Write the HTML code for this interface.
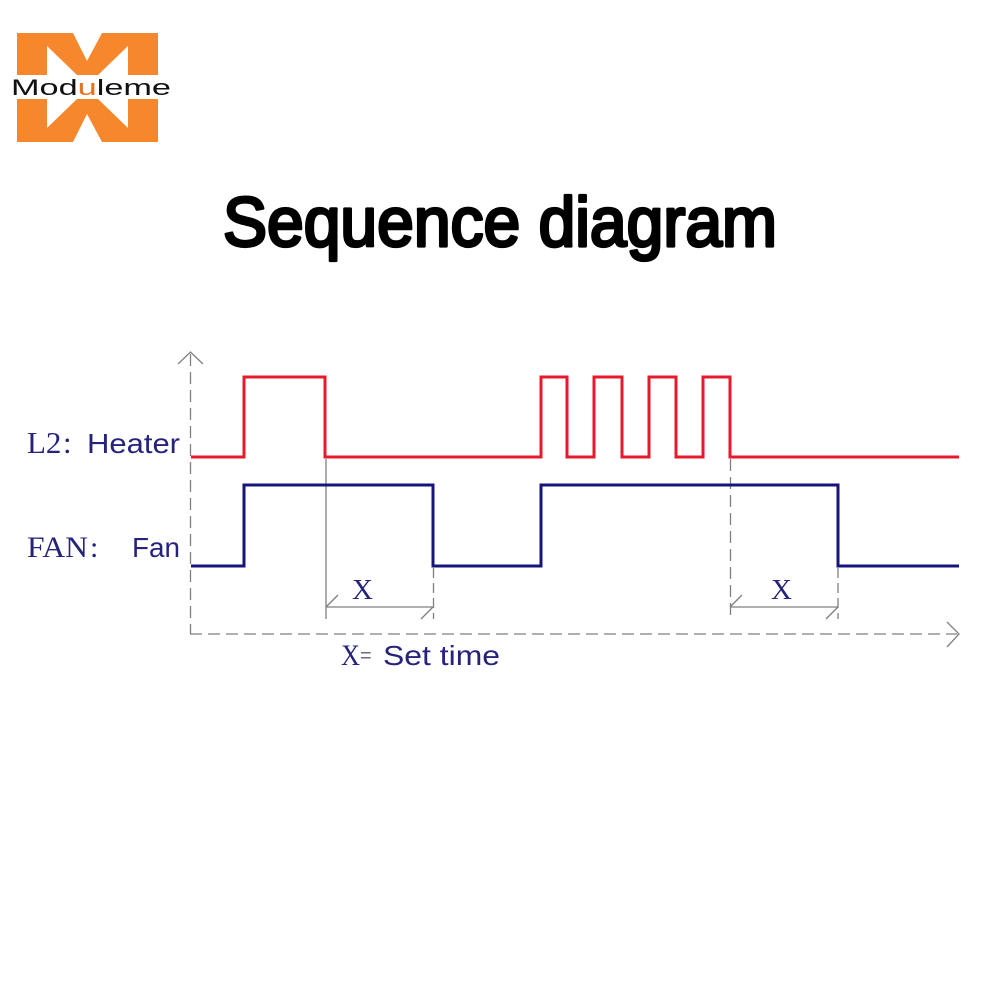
<!DOCTYPE html>
<html>
<head>
<meta charset="utf-8">
<style>
html,body{margin:0;padding:0;background:#fff;}
svg{display:block;}
</style>
</head>
<body>
<svg width="1000" height="1000" viewBox="0 0 1000 1000" xmlns="http://www.w3.org/2000/svg">
<rect width="1000" height="1000" fill="#fff"/>

<!-- Logo -->
<polygon fill="#f7872d" points="17,33 73,33 87,61 102,33 158,33 158,75 128,75 128,46 98,75 77,75 47,46 47,75 17,75"/>
<polygon fill="#f7872d" points="17,99 47,99 47,128 77,99 98,99 128,128 128,99 158,99 158,142 102,142 87,114 73,142 17,142"/>
<rect x="8" y="77" width="170" height="21" fill="#fff"/>
<text x="11" y="95" font-family="Liberation Sans, sans-serif" font-size="22" fill="#111" textLength="160" lengthAdjust="spacingAndGlyphs">Mod<tspan fill="#e8731f">u</tspan>leme</text>

<!-- Title -->
<text x="223" y="246" font-family="Liberation Sans, sans-serif" font-weight="normal" font-size="70" fill="#000" stroke="#000" stroke-width="3.2" stroke-linejoin="round" textLength="554" lengthAdjust="spacingAndGlyphs">Sequence diagram</text>

<!-- Axes -->
<g stroke="#808080" stroke-width="1.3" fill="none">
  <line x1="190.5" y1="354" x2="190.5" y2="634" stroke-dasharray="12 6"/>
  <polyline points="178,364 190.5,352 203,364"/>
  <line x1="190" y1="634" x2="957" y2="634" stroke-dasharray="12 6"/>
  <polyline points="947,622 959,634 947,647"/>

  <!-- first dimension -->
  <line x1="326" y1="459" x2="326" y2="619"/>
  <line x1="433.5" y1="568" x2="433.5" y2="619" stroke-dasharray="10 5"/>
  <line x1="326" y1="607" x2="433" y2="607"/>
  <line x1="326" y1="607" x2="338" y2="595"/>
  <line x1="421" y1="619" x2="433" y2="607"/>

  <!-- second dimension -->
  <line x1="730.5" y1="459" x2="730.5" y2="619" stroke-dasharray="12 6"/>
  <line x1="838" y1="568" x2="838" y2="619" stroke-dasharray="10 5"/>
  <line x1="730" y1="607" x2="838" y2="607"/>
  <line x1="730" y1="607" x2="742" y2="595"/>
  <line x1="826" y1="619" x2="838" y2="607"/>
</g>

<!-- Heater signal -->
<polyline fill="none" stroke="#e8192c" stroke-width="3" stroke-linejoin="miter"
  points="191,457 244,457 244,377 325,377 325,457 541,457 541,377 567,377 567,457 594,457 594,377 622,377 622,457 649,457 649,377 676,377 676,457 703,457 703,377 730,377 730,457 959,457"/>

<!-- Fan signal -->
<polyline fill="none" stroke="#16167a" stroke-width="3" stroke-linejoin="miter"
  points="191,566 244,566 244,485 433,485 433,566 541,566 541,485 838,485 838,566 959,566"/>

<!-- Labels -->
<g fill="#25237a">
  <text x="27" y="453" font-family="Liberation Serif, serif" font-size="31">L2</text>
  <text x="63" y="453" font-family="Liberation Serif, serif" font-size="31">:</text>
  <text x="87" y="453" font-family="Liberation Sans, sans-serif" font-size="28" textLength="93" lengthAdjust="spacingAndGlyphs">Heater</text>
  <text x="27" y="557" font-family="Liberation Serif, serif" font-size="30" textLength="61" lengthAdjust="spacingAndGlyphs">FAN</text>
  <text x="90" y="557" font-family="Liberation Serif, serif" font-size="30">:</text>
  <text x="132" y="557" font-family="Liberation Sans, sans-serif" font-size="28" textLength="48" lengthAdjust="spacingAndGlyphs">Fan</text>

  <text x="352" y="599" font-family="Liberation Serif, serif" font-size="28" textLength="21" lengthAdjust="spacingAndGlyphs">X</text>
  <text x="771" y="599" font-family="Liberation Serif, serif" font-size="28" textLength="21" lengthAdjust="spacingAndGlyphs">X</text>

  <text x="341" y="665" font-family="Liberation Serif, serif" font-size="30" textLength="19" lengthAdjust="spacingAndGlyphs">X</text>
  <text x="360" y="662" font-family="Liberation Sans, sans-serif" font-size="20" fill="#6a6a8a">=</text>
  <text x="383" y="665" font-family="Liberation Sans, sans-serif" font-size="28" textLength="117" lengthAdjust="spacingAndGlyphs">Set time</text>
</g>
</svg>
</body>
</html>
